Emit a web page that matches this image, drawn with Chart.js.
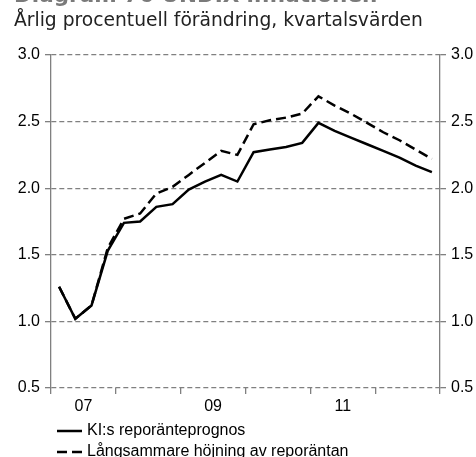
<!DOCTYPE html>
<html>
<head>
<meta charset="utf-8">
<script src="https://cdn.jsdelivr.net/npm/chart.js@4/dist/chart.umd.min.js"></script>
<style>
  body { margin: 0; background: #fff; }
  #wrap { position: relative; width: 476px; height: 457px; overflow: hidden; }
  canvas { position: absolute; left: 0; top: 0; }
  .titel { position: absolute; left: 14px; top: -18px; font: bold 21.5px "DejaVu Sans", Verdana, sans-serif; color: #7a7a7a; white-space: nowrap; }
  .under { position: absolute; left: 14px; top: 9px; font: 18.7px "DejaVu Sans", Verdana, sans-serif; color: #222; white-space: nowrap; }
  .leg { position: absolute; left: 57px; font: 16px "Liberation Sans", Arial, sans-serif; color: #000; white-space: nowrap; line-height: 18px; }
  .leg svg { vertical-align: middle; margin-right: 4px; }
</style>
</head>
<body>
<div id="wrap">
  <canvas id="diagram" width="476" height="457"></canvas>
  <div class="titel">Diagram 76 UNDIX-inflationen</div>
  <div class="under">Årlig procentuell förändring, kvartalsvärden</div>
  <div class="leg" style="top:421px"><svg width="26" height="6"><line x1="0" y1="3" x2="25" y2="3" stroke="#000" stroke-width="2.5"/></svg>KI:s reporänteprognos</div>
  <div class="leg" style="top:442px"><svg width="26" height="6"><line x1="0" y1="3" x2="25" y2="3" stroke="#000" stroke-width="2.5" stroke-dasharray="10 5"/></svg>Långsammare höjning av reporäntan</div>
</div>
<script>
// kvartal 2007K1 - 2012K4
const kvartal = ['2007K1','2007K2','2007K3','2007K4','2008K1','2008K2','2008K3','2008K4',
                 '2009K1','2009K2','2009K3','2009K4','2010K1','2010K2','2010K3','2010K4',
                 '2011K1','2011K2','2011K3','2011K4','2012K1','2012K2','2012K3','2012K4'];
const kiPrognos = [1.26, 1.02, 1.12, 1.53, 1.74, 1.75, 1.86, 1.88,
                   1.99, 2.05, 2.10, 2.05, 2.27, 2.29, 2.31, 2.34,
                   2.49, 2.43, 2.38, 2.33, 2.28, 2.23, 2.17, 2.12];
const langsammare = [1.26, 1.02, 1.12, 1.55, 1.77, 1.81, 1.96, 2.01,
                     2.10, 2.19, 2.28, 2.25, 2.48, 2.51, 2.53, 2.56,
                     2.69, 2.62, 2.56, 2.49, 2.42, 2.36, 2.29, 2.22];
const arEtiketter = { 2007: '07', 2009: '09', 2011: '11' };
const yTicks = [0.5, 1.0, 1.5, 2.0, 2.5, 3.0];

const gra = '#808080';
const axelFont = { family: '"Liberation Sans", Arial, sans-serif', size: 16 };

// punkter i mitten av varje kvartal
const punkter = serie => serie.map((v, i) => ({ x: i + 0.5, y: v }));

const forstaAr = parseInt(kvartal[0]);
const etikettPos = {};
Object.keys(arEtiketter).forEach(ar => { etikettPos[(ar - forstaAr) * 4 + 2] = arEtiketter[ar]; });

const yAxel = (pos, bredd, rutnat) => ({
  type: 'linear',
  position: pos,
  min: yTicks[0],
  max: yTicks[yTicks.length - 1],
  afterBuildTicks: s => { s.ticks = yTicks.map(v => ({ value: v })); },
  afterFit: s => { s.width = bredd; },
  ticks: { color: '#000', font: axelFont, padding: 5, callback: v => v.toFixed(1) },
  grid: { color: gra, lineWidth: 1.3, drawOnChartArea: rutnat, tickLength: 6, tickColor: gra },
  border: { display: true, color: gra, width: 1.3, dash: rutnat ? [5, 3] : [] }
});

new Chart(document.getElementById('diagram'), {
  type: 'line',
  data: {
    datasets: [
      { label: 'KI:s reporänteprognos', data: punkter(kiPrognos), borderColor: '#000', borderWidth: 2.5, pointRadius: 0, tension: 0, yAxisID: 'y' },
      { label: 'Långsammare höjning av reporäntan', data: punkter(langsammare), borderColor: '#000', borderWidth: 2.5, borderDash: [10, 5], pointRadius: 0, tension: 0, yAxisID: 'y' }
    ]
  },
  options: {
    responsive: false,
    animation: false,
    layout: { padding: { top: 55, left: 0, right: 0, bottom: 0 } },
    plugins: { legend: { display: false }, tooltip: { enabled: false } },
    scales: {
      x: {
        type: 'linear',
        min: 0,
        max: kvartal.length,
        afterBuildTicks: s => {
          const t = [];
          for (let i = 0; i <= kvartal.length; i += 2) t.push({ value: i });
          s.ticks = t;
        },
        afterFit: s => { s.height = 69; },
        ticks: { color: '#000', font: axelFont, padding: 3, maxRotation: 0, autoSkip: false,
                 callback: v => etikettPos[v] || '' },
        grid: { drawOnChartArea: false, tickLength: 6, lineWidth: 1.3,
                tickColor: c => (c.tick && c.tick.value % 4 === 0) ? gra : 'rgba(0,0,0,0)' },
        border: { display: false }
      },
      y: yAxel('left', 51, true),
      y2: yAxel('right', 36, false)
    }
  }
});
</script>
</body>
</html>
